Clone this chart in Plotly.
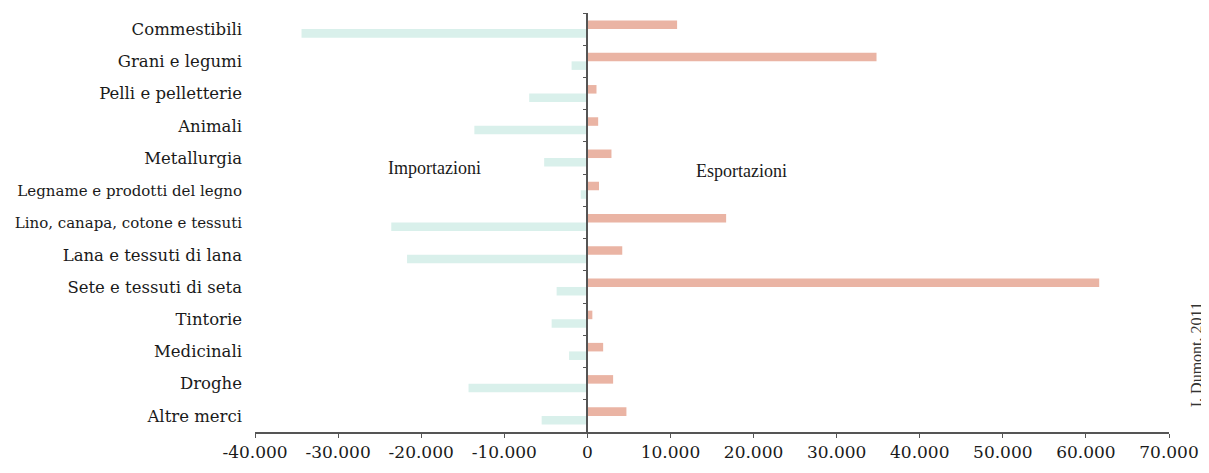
import plotly.graph_objects as go

# Merci, valori in lire
categories = [
    "Commestibili",
    "Grani e legumi",
    "Pelli e pelletterie",
    "Animali",
    "Metallurgia",
    "Legname e prodotti del legno",
    "Lino, canapa, cotone e tessuti",
    "Lana e tessuti di lana",
    "Sete e tessuti di seta",
    "Tintorie",
    "Medicinali",
    "Droghe",
    "Altre merci",
]
esportazioni = [10800, 34800, 1100, 1300, 2900, 1400, 16700, 4200, 61600, 600, 1900, 3100, 4700]
importazioni = [-34400, -1900, -7000, -13600, -5200, -800, -23600, -21700, -3700, -4300, -2200, -14300, -5500]

x_ticks = [-40000, -30000, -20000, -10000, 0, 10000, 20000, 30000, 40000, 50000, 60000, 70000]
x_tick_labels = ["-40.000", "-30.000", "-20.000", "-10.000", "0", "10.000",
                 "20.000", "30.000", "40.000", "50.000", "60.000", "70.000"]

LABEL_FONT = "DejaVu Serif"
TEXT_FONT = "Liberation Serif"
n = len(categories)

# the two longest names are set a little smaller so they stay inside the page
long_names = {"Legname e prodotti del legno", "Lino, canapa, cotone e tessuti"}
y_tick_text = [f"<span style='font-size:15px'>{c}</span>" if c in long_names else c
               for c in categories]

fig = go.Figure()
fig.add_trace(go.Bar(
    x=esportazioni, y=categories, orientation="h", name="Esportazioni",
    marker=dict(color="#eab4a4", line=dict(width=0)),
))
fig.add_trace(go.Bar(
    x=importazioni, y=categories, orientation="h", name="Importazioni",
    marker=dict(color="#d9f0eb", line=dict(width=0)),
))
# invisible trace that carries the axis drawn at zero
fig.add_trace(go.Scatter(
    x=[0] * n, y=categories, yaxis="y2", mode="markers",
    marker=dict(opacity=0), hoverinfo="skip", showlegend=False,
))

# the page body adds 8px, margins are set so the plot lands where the scan has it
fig.update_layout(
    width=1209, height=473,
    margin=dict(l=247, r=48, t=5, b=49, autoexpand=False),
    paper_bgcolor="white", plot_bgcolor="white",
    barmode="group", bargap=0.47, bargroupgap=0,
    showlegend=False,
    font=dict(family=LABEL_FONT, color="#1a1a1a"),
    xaxis=dict(
        range=[-40000, 70000],
        tickvals=x_ticks, ticktext=x_tick_labels,
        showline=True, linecolor="#555", linewidth=1.5,
        ticks="outside", ticklen=4, tickcolor="#555",
        showgrid=False, zeroline=False, automargin=False,
        tickfont=dict(family=LABEL_FONT, size=17, color="#1a1a1a"),
    ),
    yaxis=dict(
        type="category", categoryorder="array", categoryarray=categories,
        range=[n - 0.5, -0.5],
        tickvals=categories, ticktext=y_tick_text,
        showline=False, ticks="", showgrid=False, zeroline=False,
        automargin=False, ticklabelstandoff=12,
        tickfont=dict(family=LABEL_FONT, size=16.5, color="#1a1a1a"),
    ),
    yaxis2=dict(
        type="category", categoryorder="array", categoryarray=categories,
        range=[n - 0.5, -0.5],
        overlaying="y", anchor="free", position=40 / 110,
        showline=True, linecolor="#555", linewidth=1.5,
        ticks="outside", tickson="boundaries", ticklen=4, tickcolor="#555",
        showticklabels=False, showgrid=False, zeroline=False, automargin=False,
    ),
)

fig.add_annotation(text="Importazioni", x=-18400, y=0.63, xref="x", yref="paper",
                   xanchor="center", yanchor="middle", showarrow=False,
                   font=dict(family=TEXT_FONT, size=18, color="#1a1a1a"))
fig.add_annotation(text="Esportazioni", x=18500, y=0.623, xref="x", yref="paper",
                   xanchor="center", yanchor="middle", showarrow=False,
                   font=dict(family=TEXT_FONT, size=18, color="#1a1a1a"))
fig.add_annotation(text="I. Dumont, 2011", x=1.031, y=0.184, xref="paper", yref="paper",
                   xanchor="center", yanchor="middle", textangle=-90, showarrow=False,
                   font=dict(family=TEXT_FONT, size=16, color="#333"))

fig.write_html("out.html")
